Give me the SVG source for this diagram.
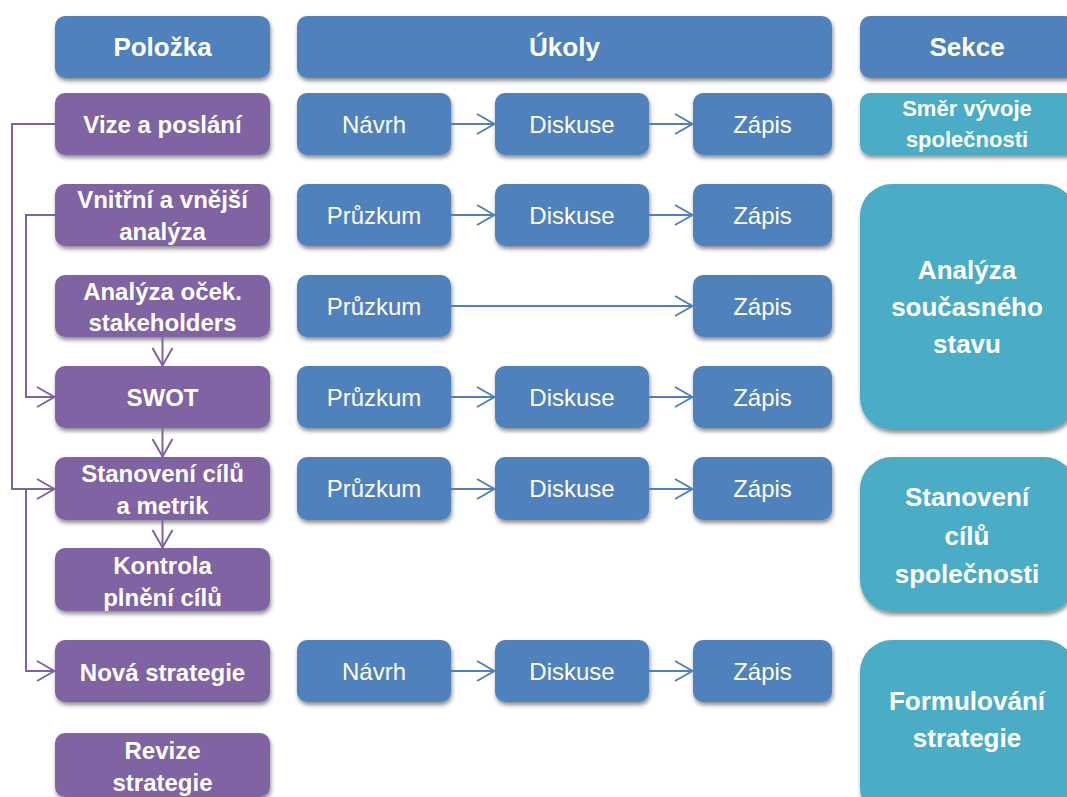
<svg xmlns="http://www.w3.org/2000/svg" width="1067" height="797" viewBox="0 0 1067 797">
  <defs>
    <filter id="sh" x="-10%" y="-10%" width="120%" height="130%">
      <feGaussianBlur in="SourceAlpha" stdDeviation="2.2"/>
      <feOffset dx="1" dy="3" result="b"/>
      <feComponentTransfer><feFuncA type="linear" slope="0.45"/></feComponentTransfer>
      <feMerge><feMergeNode/><feMergeNode in="SourceGraphic"/></feMerge>
    </filter>
    <marker id="ab" viewBox="0 0 20 22" refX="19" refY="11" markerWidth="20" markerHeight="22" markerUnits="userSpaceOnUse" orient="auto">
      <path d="M1,1 L18.5,11 L1,21" fill="none" stroke="#4F81BD" stroke-width="2"/>
    </marker>
    <marker id="ap" viewBox="0 0 20 22" refX="19" refY="11" markerWidth="20" markerHeight="22" markerUnits="userSpaceOnUse" orient="auto">
      <path d="M1,1 L18.5,11 L1,21" fill="none" stroke="#8064A2" stroke-width="2"/>
    </marker>
  </defs>
  <style>
    .hd { fill: #4F81BD; filter: url(#sh); }
    .it { fill: #8064A2; filter: url(#sh); }
    .tk { fill: #4F81BD; filter: url(#sh); }
    .sc { fill: #4BACC6; filter: url(#sh); }
    text { fill: #FFFFFF; font-family: "Liberation Sans", Arial, sans-serif; text-anchor: middle; }
    .th { font-size: 26px; font-weight: bold; }
    .ti { font-size: 24px; font-weight: bold; }
    .tt { font-size: 24px; }
    .ts { font-size: 26px; font-weight: bold; }
    .ts2 { font-size: 22px; font-weight: bold; }
    .cb { fill: none; stroke: #4F81BD; stroke-width: 2; marker-end: url(#ab); }
    .cpa { fill: none; stroke: #8064A2; stroke-width: 2; marker-end: url(#ap); }
  </style>
  <rect width="1067" height="797" fill="#FFFFFF"/>

  <!-- column headers -->
  <g id="hdr-polozka"><rect class="hd" x="55" y="16" width="215" height="62" rx="10"/><text class="th" x="162.5" y="56">Položka</text></g>
  <g id="hdr-ukoly"><rect class="hd" x="297" y="16" width="535" height="62" rx="10"/><text class="th" x="564.5" y="56">Úkoly</text></g>
  <g id="hdr-sekce"><rect class="hd" x="860" y="16" width="216" height="62" rx="10"/><text class="th" x="967" y="56">Sekce</text></g>

  <!-- items -->
  <g id="item-vize"><rect class="it" x="55" y="93" width="215" height="62" rx="10"/><text class="ti" x="162.5" y="133">Vize a poslání</text></g>
  <g id="item-analyza"><rect class="it" x="55" y="184" width="215" height="62" rx="10"/><text class="ti" x="162.5" y="208">Vnitřní a vnější</text><text class="ti" x="162.5" y="240">analýza</text></g>
  <g id="item-stakeholders"><rect class="it" x="55" y="275" width="215" height="62" rx="10"/><text class="ti" x="162.5" y="300">Analýza oček.</text><text class="ti" x="162.5" y="331">stakeholders</text></g>
  <g id="item-swot"><rect class="it" x="55" y="366" width="215" height="62" rx="10"/><text class="ti" x="162.5" y="406">SWOT</text></g>
  <g id="item-cile"><rect class="it" x="55" y="457" width="215" height="63" rx="10"/><text class="ti" x="162.5" y="482">Stanovení cílů</text><text class="ti" x="162.5" y="514">a metrik</text></g>
  <g id="item-kontrola"><rect class="it" x="55" y="548" width="215" height="63" rx="10"/><text class="ti" x="162.5" y="574">Kontrola</text><text class="ti" x="162.5" y="606">plnění cílů</text></g>
  <g id="item-nova"><rect class="it" x="55" y="640" width="215" height="62" rx="10"/><text class="ti" x="162.5" y="681">Nová strategie</text></g>
  <g id="item-revize"><rect class="it" x="55" y="733" width="215" height="64" rx="10"/><text class="ti" x="162.5" y="759">Revize</text><text class="ti" x="162.5" y="791">strategie</text></g>

  <!-- tasks -->
  <g id="t1-navrh"><rect class="tk" x="297" y="93" width="154" height="62" rx="10"/><text class="tt" x="374" y="133">Návrh</text></g>
  <g id="t1-diskuse"><rect class="tk" x="495" y="93" width="154" height="62" rx="10"/><text class="tt" x="572" y="133">Diskuse</text></g>
  <g id="t1-zapis"><rect class="tk" x="693" y="93" width="139" height="62" rx="10"/><text class="tt" x="762.5" y="133">Zápis</text></g>

  <g id="t2-pruzkum"><rect class="tk" x="297" y="184" width="154" height="62" rx="10"/><text class="tt" x="374" y="224">Průzkum</text></g>
  <g id="t2-diskuse"><rect class="tk" x="495" y="184" width="154" height="62" rx="10"/><text class="tt" x="572" y="224">Diskuse</text></g>
  <g id="t2-zapis"><rect class="tk" x="693" y="184" width="139" height="62" rx="10"/><text class="tt" x="762.5" y="224">Zápis</text></g>

  <g id="t3-pruzkum"><rect class="tk" x="297" y="275" width="154" height="62" rx="10"/><text class="tt" x="374" y="315">Průzkum</text></g>
  <g id="t3-zapis"><rect class="tk" x="693" y="275" width="139" height="62" rx="10"/><text class="tt" x="762.5" y="315">Zápis</text></g>

  <g id="t4-pruzkum"><rect class="tk" x="297" y="366" width="154" height="62" rx="10"/><text class="tt" x="374" y="406">Průzkum</text></g>
  <g id="t4-diskuse"><rect class="tk" x="495" y="366" width="154" height="62" rx="10"/><text class="tt" x="572" y="406">Diskuse</text></g>
  <g id="t4-zapis"><rect class="tk" x="693" y="366" width="139" height="62" rx="10"/><text class="tt" x="762.5" y="406">Zápis</text></g>

  <g id="t5-pruzkum"><rect class="tk" x="297" y="457" width="154" height="63" rx="10"/><text class="tt" x="374" y="497">Průzkum</text></g>
  <g id="t5-diskuse"><rect class="tk" x="495" y="457" width="154" height="63" rx="10"/><text class="tt" x="572" y="497">Diskuse</text></g>
  <g id="t5-zapis"><rect class="tk" x="693" y="457" width="139" height="63" rx="10"/><text class="tt" x="762.5" y="497">Zápis</text></g>

  <g id="t6-navrh"><rect class="tk" x="297" y="640" width="154" height="62" rx="10"/><text class="tt" x="374" y="680">Návrh</text></g>
  <g id="t6-diskuse"><rect class="tk" x="495" y="640" width="154" height="62" rx="10"/><text class="tt" x="572" y="680">Diskuse</text></g>
  <g id="t6-zapis"><rect class="tk" x="693" y="640" width="139" height="62" rx="10"/><text class="tt" x="762.5" y="680">Zápis</text></g>

  <!-- sections -->
  <g id="sec-smer"><rect class="sc" x="860" y="93" width="216" height="62" rx="10"/><text class="ts2" x="967" y="116">Směr vývoje</text><text class="ts2" x="967" y="147">společnosti</text></g>
  <g id="sec-analyza"><rect class="sc" x="860" y="184" width="216" height="246" rx="32"/><text class="ts" x="967" y="279">Analýza</text><text class="ts" x="967" y="316">současného</text><text class="ts" x="967" y="353">stavu</text></g>
  <g id="sec-cile"><rect class="sc" x="860" y="457" width="216" height="155" rx="32"/><text class="ts" x="967" y="506">Stanovení</text><text class="ts" x="967" y="545">cílů</text><text class="ts" x="967" y="583">společnosti</text></g>
  <g id="sec-formulovani"><rect class="sc" x="860" y="640" width="216" height="180" rx="32"/><text class="ts" x="967" y="710">Formulování</text><text class="ts" x="967" y="747">strategie</text></g>

  <!-- connectors -->
  <g id="connectors">
    <line class="cb" x1="451" y1="124" x2="495" y2="124"/>
    <line class="cb" x1="649" y1="124" x2="693" y2="124"/>
    <line class="cb" x1="451" y1="215" x2="495" y2="215"/>
    <line class="cb" x1="649" y1="215" x2="693" y2="215"/>
    <line class="cb" x1="451" y1="306" x2="693" y2="306"/>
    <line class="cb" x1="451" y1="397" x2="495" y2="397"/>
    <line class="cb" x1="649" y1="397" x2="693" y2="397"/>
    <line class="cb" x1="451" y1="489" x2="495" y2="489"/>
    <line class="cb" x1="649" y1="489" x2="693" y2="489"/>
    <line class="cb" x1="451" y1="671" x2="495" y2="671"/>
    <line class="cb" x1="649" y1="671" x2="693" y2="671"/>

    <polyline class="cpa" points="55,124 12,124 12,489 55,489"/>
    <polyline class="cpa" points="55,215 26,215 26,397 55,397"/>
    <polyline class="cpa" points="26,489 26,671 55,671"/>
    <line class="cpa" x1="162.5" y1="337" x2="162.5" y2="366"/>
    <line class="cpa" x1="162.5" y1="428" x2="162.5" y2="457"/>
    <line class="cpa" x1="162.5" y1="520" x2="162.5" y2="548"/>
  </g>
</svg>
